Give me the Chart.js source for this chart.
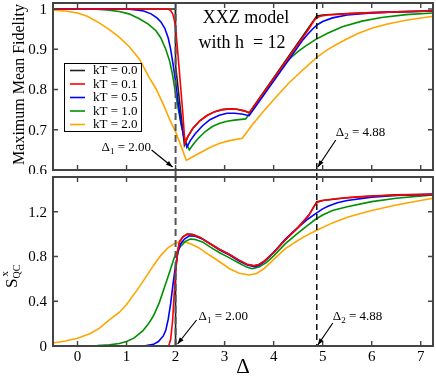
<!DOCTYPE html>
<html lang="en">
<head>
<meta charset="UTF-8">
<title>XXZ model fidelity and quantum coherence</title>
<style>
    body { margin: 0; background: #fff; }
    #wrap { position: relative; width: 436px; height: 381px; }
    #top { position: absolute; left: 0; top: 0; }
    #bottom { position: absolute; left: 0; top: 174px; }
</style>
<script src="https://cdn.jsdelivr.net/npm/chart.js"></script>
</head>
<body>
<div id="wrap">
    <canvas id="top" width="436" height="174"></canvas>
    <canvas id="bottom" width="436" height="207"></canvas>
</div>
<script>
// legend labels and colours
const kTs = ["0.0", "0.1", "0.5", "1.0", "2.0"];
const colours = ["#222222", "#ff0000", "#0000ff", "#009000", "#ffa500"];

// critical points
const criticals = [2.00, 4.88];

// top panel: maximum mean fidelity, [delta, value]
const fidK00 = [[-0.5,1],[1.995,1],[2.0,0.86],[2.18,0.662],[2.25,0.683],[2.35,0.703],[2.5,0.723],[2.65,0.736],[2.8,0.745],[2.95,0.75],[3.1,0.752],[3.25,0.751],[3.4,0.747],[3.5,0.742],[4.88,0.983],[5.0,0.985],[5.5,0.989],[6.0,0.991],[6.5,0.993],[7.25,0.995]];
const fidK01 = [[-0.5,1],[1.8,1],[1.86,0.999],[1.9,0.996],[1.94,0.988],[1.97,0.975],[2.0,0.955],[2.05,0.885],[2.1,0.812],[2.15,0.738],[2.19,0.667],[2.25,0.683],[2.35,0.703],[2.5,0.723],[2.65,0.736],[2.8,0.745],[2.95,0.75],[3.1,0.752],[3.25,0.751],[3.4,0.747],[3.5,0.742],[4.6,0.93],[4.7,0.947],[4.77,0.961],[4.83,0.972],[4.88,0.978],[4.95,0.982],[5.1,0.985],[5.5,0.988],[6.0,0.991],[6.5,0.993],[7.25,0.995]];
const fidK05 = [[-0.5,1],[1.0,1],[1.2,0.998],[1.35,0.995],[1.5,0.988],[1.62,0.978],[1.7,0.968],[1.78,0.952],[1.85,0.928],[1.9,0.9],[1.95,0.862],[2.0,0.82],[2.05,0.77],[2.1,0.725],[2.16,0.686],[2.23,0.657],[2.3,0.673],[2.4,0.69],[2.55,0.71],[2.7,0.725],[2.89,0.736],[3.05,0.741],[3.2,0.741],[3.35,0.739],[3.5,0.735],[4.5,0.907],[4.6,0.924],[4.7,0.938],[4.8,0.951],[4.88,0.96],[5.0,0.969],[5.2,0.978],[5.5,0.985],[6.0,0.99],[6.5,0.993],[7.25,0.995]];
const fidK10 = [[-0.5,1],[0.3,1],[0.6,0.998],[0.85,0.994],[1.05,0.988],[1.26,0.976],[1.45,0.962],[1.6,0.946],[1.7,0.928],[1.8,0.9],[1.88,0.87],[1.94,0.836],[2.0,0.79],[2.06,0.748],[2.12,0.71],[2.2,0.672],[2.28,0.65],[2.35,0.662],[2.45,0.677],[2.6,0.695],[2.75,0.708],[2.9,0.716],[3.05,0.721],[3.2,0.724],[3.43,0.727],[4.2,0.86],[4.35,0.879],[4.5,0.895],[4.65,0.908],[4.85,0.924],[5.1,0.94],[5.4,0.956],[5.8,0.97],[6.2,0.979],[6.7,0.986],[7.25,0.99]];
const fidK20 = [[-0.5,0.997],[-0.25,0.995],[0,0.99],[0.2,0.982],[0.45,0.965],[0.65,0.949],[0.85,0.93],[1.05,0.907],[1.26,0.876],[1.46,0.83],[1.6,0.802],[1.75,0.763],[1.9,0.72],[2.0,0.695],[2.1,0.663],[2.22,0.624],[2.35,0.633],[2.5,0.643],[2.7,0.656],[2.89,0.666],[3.1,0.673],[3.36,0.679],[3.55,0.71],[3.75,0.74],[4.04,0.78],[4.3,0.815],[4.5,0.838],[4.7,0.86],[4.88,0.88],[5.1,0.899],[5.3,0.913],[5.5,0.926],[5.73,0.94],[6.0,0.952],[6.3,0.962],[6.7,0.972],[7.25,0.982]];

// bottom panel: S^x_QC, [delta, value]
const sqcK00 = [[-0.5,0],[1.995,0],[2.0,0.66],[2.04,0.84],[2.08,0.93],[2.15,0.975],[2.24,1.0],[2.35,0.995],[2.5,0.97],[2.68,0.92],[2.89,0.865],[3.09,0.82],[3.3,0.765],[3.45,0.73],[3.6,0.716],[3.7,0.728],[3.8,0.755],[4.0,0.835],[4.24,0.95],[4.5,1.06],[4.72,1.17],[4.88,1.29],[5.0,1.3],[5.5,1.325],[6.0,1.34],[6.5,1.35],[7.25,1.355]];
const sqcK01 = [[-0.5,0],[1.86,0],[1.9,0.06],[1.94,0.23],[1.97,0.45],[2.0,0.66],[2.04,0.84],[2.08,0.93],[2.15,0.975],[2.24,1.0],[2.35,0.995],[2.5,0.97],[2.68,0.92],[2.89,0.865],[3.09,0.82],[3.3,0.765],[3.45,0.73],[3.6,0.716],[3.7,0.728],[3.8,0.755],[4.0,0.835],[4.24,0.95],[4.5,1.06],[4.72,1.17],[4.8,1.23],[4.85,1.265],[4.9,1.285],[5.0,1.3],[5.3,1.318],[5.7,1.332],[6.2,1.343],[6.7,1.35],[7.25,1.355]];
const sqcK05 = [[-0.5,0],[1.2,0],[1.4,0.004],[1.55,0.015],[1.65,0.04],[1.75,0.09],[1.8,0.14],[1.85,0.24],[1.9,0.38],[1.95,0.56],[2.0,0.72],[2.05,0.84],[2.1,0.91],[2.18,0.955],[2.28,0.985],[2.4,0.98],[2.55,0.955],[2.7,0.915],[2.89,0.86],[3.09,0.815],[3.3,0.76],[3.45,0.725],[3.6,0.708],[3.7,0.72],[3.8,0.75],[4.0,0.835],[4.24,0.955],[4.5,1.06],[4.7,1.135],[4.85,1.18],[5.0,1.225],[5.12,1.25],[5.3,1.28],[5.5,1.3],[6.0,1.33],[6.5,1.345],[7.25,1.355]];
const sqcK10 = [[-0.5,0],[0,0.001],[0.4,0.004],[0.65,0.01],[0.85,0.022],[1.0,0.04],[1.15,0.07],[1.33,0.135],[1.45,0.2],[1.55,0.27],[1.67,0.39],[1.77,0.52],[1.87,0.65],[1.95,0.76],[2.0,0.82],[2.1,0.89],[2.2,0.935],[2.3,0.955],[2.4,0.952],[2.55,0.93],[2.7,0.885],[2.89,0.835],[3.09,0.79],[3.3,0.74],[3.45,0.705],[3.56,0.69],[3.7,0.705],[3.85,0.745],[4.0,0.805],[4.24,0.915],[4.5,1.01],[4.7,1.08],[4.85,1.13],[5.0,1.17],[5.2,1.21],[5.5,1.245],[6.0,1.29],[6.5,1.32],[7.25,1.35]];
const sqcK20 = [[-0.5,0.027],[-0.25,0.045],[0,0.07],[0.25,0.11],[0.45,0.16],[0.65,0.233],[0.85,0.3],[1.0,0.37],[1.2,0.49],[1.4,0.62],[1.55,0.72],[1.7,0.81],[1.85,0.88],[2.0,0.92],[2.1,0.933],[2.2,0.93],[2.35,0.905],[2.5,0.87],[2.68,0.815],[2.89,0.755],[3.1,0.69],[3.3,0.65],[3.5,0.635],[3.65,0.648],[3.8,0.69],[4.04,0.79],[4.24,0.87],[4.5,0.945],[4.7,0.995],[4.88,1.035],[5.2,1.1],[5.5,1.15],[6.0,1.21],[6.5,1.26],[7.25,1.32]];

const SERIF = "'Liberation Serif', 'DejaVu Serif', serif";
Chart.defaults.font.family = SERIF;
Chart.defaults.color = "#000";

function makeDatasets(series) {
    // draw kT=0.0 underneath the others, red on top
    const drawOrder = [4, 0, 1, 2, 3];
    return series.map((d, i) => ({
        label: "kT = " + kTs[i],
        data: d,
        borderColor: colours[i],
        borderWidth: 1.6,
        pointRadius: 0,
        fill: false,
        tension: 0,
        order: drawOrder[i]
    }));
}

function fmt(v) { return String(+v.toFixed(2)); }

function arrow(ctx, x1, y1, x2, y2) {
    ctx.save();
    ctx.strokeStyle = "#000";
    ctx.fillStyle = "#000";
    ctx.lineWidth = 1.2;
    ctx.beginPath();
    ctx.moveTo(x1, y1);
    ctx.lineTo(x2, y2);
    ctx.stroke();
    const a = Math.atan2(y2 - y1, x2 - x1);
    ctx.beginPath();
    ctx.moveTo(x2, y2);
    ctx.lineTo(x2 - 7 * Math.cos(a - 0.35), y2 - 7 * Math.sin(a - 0.35));
    ctx.lineTo(x2 - 7 * Math.cos(a + 0.35), y2 - 7 * Math.sin(a + 0.35));
    ctx.closePath();
    ctx.fill();
    ctx.restore();
}

function deltaLabel(ctx, x, y, sub, rest) {
    ctx.save();
    ctx.fillStyle = "#000";
    ctx.textBaseline = "middle";
    ctx.textAlign = "left";
    ctx.font = "13px " + SERIF;
    ctx.fillText("\u0394", x, y);
    x += ctx.measureText("\u0394").width;
    ctx.font = "9px " + SERIF;
    ctx.fillText(sub, x, y + 4);
    x += ctx.measureText(sub).width;
    ctx.font = "13px " + SERIF;
    ctx.fillText(rest, x, y);
    ctx.restore();
}

// frame, inward ticks, tick labels and dashed critical lines
const framePlugin = {
    id: "frame",
    afterDatasetsDraw(chart, args, opts) {
        const ctx = chart.ctx, a = chart.chartArea;
        const xs = chart.scales.x, ys = chart.scales.y;
        ctx.save();
        // dashed verticals
        criticals.forEach((c, i) => {
            const px = xs.getPixelForValue(c);
            ctx.beginPath();
            ctx.setLineDash(i === 0 ? [7, 4] : [6, 4]);
            ctx.strokeStyle = i === 0 ? "#555" : "#000";
            ctx.lineWidth = i === 0 ? 2 : 1.4;
            ctx.moveTo(px, opts.lineTop === "canvas" ? 0 : a.top);
            ctx.lineTo(px, opts.lineBottom === "canvas" ? chart.height : a.bottom);
            ctx.stroke();
        });
        ctx.setLineDash([]);
        // ticks
        ctx.strokeStyle = "#444";
        ctx.lineWidth = 1.4;
        ctx.beginPath();
        xs.ticks.forEach(t => {
            const px = xs.getPixelForValue(t.value);
            ctx.moveTo(px, a.bottom); ctx.lineTo(px, a.bottom - 5);
            ctx.moveTo(px, a.top); ctx.lineTo(px, a.top + 5);
        });
        ys.ticks.forEach(t => {
            const py = ys.getPixelForValue(t.value);
            ctx.moveTo(a.left, py); ctx.lineTo(a.left + 5, py);
            ctx.moveTo(a.right, py); ctx.lineTo(a.right - 5, py);
        });
        ctx.stroke();
        // box
        ctx.lineWidth = 2;
        ctx.strokeStyle = "#444";
        ctx.strokeRect(a.left, a.top, a.right - a.left, a.bottom - a.top);
        // tick labels
        ctx.fillStyle = "#000";
        ctx.font = "15px " + SERIF;
        ctx.textAlign = "right";
        ctx.textBaseline = "middle";
        ys.ticks.forEach(t => {
            ctx.fillText(fmt(t.value), a.left - 6, ys.getPixelForValue(t.value) + 1);
        });
        if (opts.xLabels) {
            ctx.textAlign = "center";
            ctx.textBaseline = "top";
            xs.ticks.forEach(t => {
                ctx.fillText(fmt(t.value), xs.getPixelForValue(t.value), a.bottom + 4);
            });
        }
        ctx.restore();
    }
};

function yScale(min, max, step) {
    return {
        type: "linear", min: min, max: max,
        afterFit: s => { s.width = 53; },
        grid: { display: false, drawTicks: false },
        border: { display: false },
        ticks: { display: false, stepSize: step, includeBounds: false }
    };
}

function xScale(height) {
    return {
        type: "linear", min: -0.5, max: 7.25,
        afterFit: s => { s.height = height; },
        grid: { display: false, drawTicks: false },
        border: { display: false },
        ticks: { display: false, stepSize: 1, includeBounds: false }
    };
}

// top panel
const topNotes = {
    id: "topNotes",
    afterDraw(chart) {
        const ctx = chart.ctx, a = chart.chartArea, xs = chart.scales.x;
        ctx.save();
        // y title
        ctx.translate(20, (a.top + a.bottom) / 2 - 2);
        ctx.rotate(-Math.PI / 2);
        ctx.font = "16px " + SERIF;
        ctx.textAlign = "center";
        ctx.textBaseline = "middle";
        ctx.fillStyle = "#000";
        ctx.fillText("Maximum Mean Fidelity", 0, 0);
        ctx.restore();

        ctx.save();
        ctx.font = "18px " + SERIF;
        ctx.fillStyle = "#000";
        ctx.textAlign = "center";
        ctx.textBaseline = "middle";
        ctx.fillText("XXZ model", 246, 18);
        ctx.fillText("with h  = 12", 242, 43);

        // legend
        ctx.fillStyle = "#fff";
        ctx.fillRect(64, 63, 78, 69);
        ctx.strokeStyle = "#000";
        ctx.lineWidth = 1;
        ctx.strokeRect(64.5, 63.5, 77, 68);
        ctx.font = "13px " + SERIF;
        ctx.textAlign = "left";
        kTs.forEach((k, i) => {
            const y = 70.5 + i * 13.5;
            ctx.strokeStyle = colours[i];
            ctx.lineWidth = 1.6;
            ctx.beginPath();
            ctx.moveTo(70, y); ctx.lineTo(85, y);
            ctx.stroke();
            ctx.fillStyle = "#000";
            ctx.fillText("kT = " + k, 93, y + 0.5);
        });
        ctx.restore();

        const p1 = xs.getPixelForValue(criticals[0]);
        const p2 = xs.getPixelForValue(criticals[1]);
        arrow(ctx, p1 - 24, a.bottom - 20, p1 - 3, a.bottom - 3);
        deltaLabel(ctx, p1 - 74, a.bottom - 22, "1", " = 2.00");
        arrow(ctx, p2 + 19, a.bottom - 30, p2 + 1, a.bottom - 3);
        deltaLabel(ctx, p2 + 19, a.bottom - 37, "2", " = 4.88");
    }
};

new Chart(document.getElementById("top"), {
    type: "line",
    data: { datasets: makeDatasets([fidK00, fidK01, fidK05, fidK10, fidK20]) },
    options: {
        responsive: false,
        animation: false,
        devicePixelRatio: 1,
        layout: { padding: { top: 3, right: 3, left: 0, bottom: 0 } },
        scales: { x: xScale(4), y: yScale(0.6, 1.015, 0.1) },
        plugins: {
            legend: { display: false },
            tooltip: { enabled: false },
            frame: { lineBottom: "canvas", xLabels: false }
        }
    },
    plugins: [framePlugin, topNotes]
});

// bottom panel
const bottomNotes = {
    id: "bottomNotes",
    afterDraw(chart) {
        const ctx = chart.ctx, a = chart.chartArea, xs = chart.scales.x;
        ctx.save();
        ctx.fillStyle = "#000";
        ctx.textAlign = "center";
        ctx.textBaseline = "alphabetic";
        ctx.font = "21px " + SERIF;
        ctx.fillText("\u0394", 243, 199);

        // y title S^x_QC, rotated
        ctx.translate(17, 114);
        ctx.rotate(-Math.PI / 2);
        ctx.textAlign = "left";
        ctx.font = "17px " + SERIF;
        ctx.fillText("S", 0, 0);
        let u = ctx.measureText("S").width;
        ctx.font = "10px " + SERIF;
        ctx.fillText("QC", u, 3);
        ctx.font = "11px " + SERIF;
        ctx.fillText("x", u + 2, -9);
        ctx.restore();

        const p1 = xs.getPixelForValue(criticals[0]);
        const p2 = xs.getPixelForValue(criticals[1]);
        arrow(ctx, p1 + 21, a.bottom - 26, p1 + 2, a.bottom - 2);
        deltaLabel(ctx, p1 + 23, a.bottom - 29, "1", " = 2.00");
        arrow(ctx, p2 + 16, a.bottom - 23, p2 + 1, a.bottom - 1);
        deltaLabel(ctx, p2 + 16, a.bottom - 29, "2", " = 4.88");
    }
};

new Chart(document.getElementById("bottom"), {
    type: "line",
    data: { datasets: makeDatasets([sqcK00, sqcK01, sqcK05, sqcK10, sqcK20]) },
    options: {
        responsive: false,
        animation: false,
        devicePixelRatio: 1,
        layout: { padding: { top: 3, right: 3, left: 0, bottom: 0 } },
        scales: { x: xScale(35), y: yScale(0, 1.51, 0.4) },
        plugins: {
            legend: { display: false },
            tooltip: { enabled: false },
            frame: { lineTop: "canvas", xLabels: true }
        }
    },
    plugins: [framePlugin, bottomNotes]
});
</script>
</body>
</html>
